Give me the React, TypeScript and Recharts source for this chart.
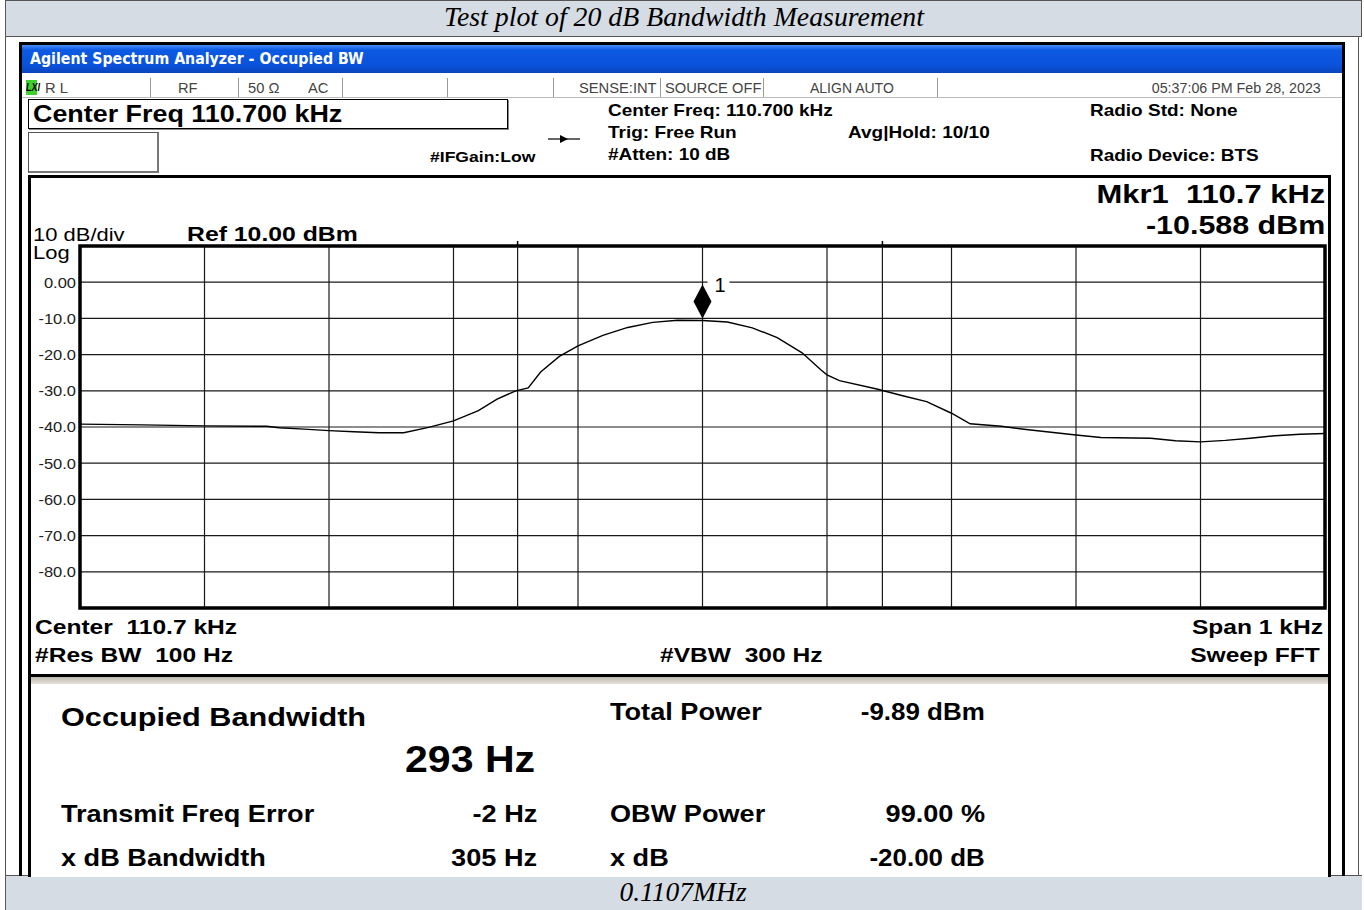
import React from "react";
import {
  CartesianGrid,
  Line,
  LineChart,
  ReferenceArea,
  ReferenceDot,
  ReferenceLine,
  XAxis,
  YAxis,
} from "recharts";

// trace: offset from 110.7 kHz centre (Hz) vs level (dBm)
const FREQ_OFFSET_HZ = [
  -500, -450, -400, -350, -340, -320, -300, -280, -260, -240, -220, -200, -180, -165, -150,
  -140, -130, -115, -100, -80, -60, -40, -20, 0, 20, 40, 60, 80, 95, 100, 110, 140, 160, 180,
  200, 215, 240, 260, 300, 320, 360, 380, 400, 420, 440, 460, 480, 500,
];
const TRACE_DBM = [
  -39.2, -39.4, -39.7, -39.8, -40.2, -40.6, -41.0, -41.3, -41.6, -41.6, -40.1, -38.3, -35.5,
  -32.3, -30.0, -29.2, -24.8, -20.5, -17.6, -14.7, -12.5, -11.1, -10.5, -10.59, -11.0, -12.6,
  -15.3, -19.5, -24.2, -25.6, -27.2, -29.5, -31.3, -33.0, -36.2, -39.1, -39.8, -40.7, -42.2,
  -42.9, -43.1, -43.8, -44.1, -43.7, -43.1, -42.4, -42.0, -41.8,
];
const X_TICKS = [-500, -400, -300, -200, -100, 0, 100, 200, 300, 400, 500];
const Y_TICKS = [-90, -80, -70, -60, -50, -40, -30, -20, -10, 0, 10];
const OBW_EDGES_HZ = [-148.5, 144.5];
const MARKER_HZ = 0;
const MARKER_DBM = -10.588;

const data = FREQ_OFFSET_HZ.map((f, i) => ({ f, dbm: TRACE_DBM[i] }));

const SANS = '"Liberation Sans", Arial, sans-serif';
const SERIF = '"Liberation Serif", "Times New Roman", serif';

type TxtProps = {
  x: number;
  y: number; // baseline
  size: number;
  children: React.ReactNode;
  bold?: boolean;
  align?: "left" | "right" | "center";
  font?: string;
  color?: string;
  italic?: boolean;
  sx?: number;
};

const Txt = ({
  x,
  y,
  size,
  children,
  bold = true,
  align = "left",
  font = SANS,
  color = "#000",
  italic = false,
  sx = 1.15,
}: TxtProps) => {
  const style: React.CSSProperties = {
    position: "absolute",
    top: y - 0.85 * size,
    fontSize: size,
    lineHeight: `${size}px`,
    fontFamily: font,
    fontWeight: bold ? 700 : 400,
    fontStyle: italic ? "italic" : "normal",
    color,
    whiteSpace: "nowrap",
  };
  if (align === "left") {
    style.left = x;
    style.transform = `scaleX(${sx})`;
    style.transformOrigin = "left";
  } else if (align === "right") {
    style.right = 1364 - x;
    style.transform = `scaleX(${sx})`;
    style.transformOrigin = "right";
  } else {
    style.left = x;
    style.transform = `translateX(-50%) scaleX(${sx})`;
    style.transformOrigin = "center";
  }
  return <div style={style}>{children}</div>;
};

const Box = (p: { l: number; t: number; w: number; h: number; style?: React.CSSProperties }) => (
  <div
    style={{
      position: "absolute",
      left: p.l,
      top: p.t,
      width: p.w,
      height: p.h,
      boxSizing: "border-box",
      ...p.style,
    }}
  />
);

const NoTick = () => <g />;

const YTick = (props: any) => {
  const { x, y, payload } = props;
  const v = payload.value as number;
  if (v === 10 || v === -90) return <g />;
  const label = v === 0 ? "0.00" : v.toFixed(1);
  return (
    <g transform={`translate(${x},${y})`}>
      <text
        x={0}
        y={0}
        dy="0.36em"
        textAnchor="end"
        transform="scale(1.1,1)"
        fontFamily={SANS}
        fontSize={15}
        fill="#222"
      >
        {label}
      </text>
    </g>
  );
};

const MarkerShape = (props: any) => {
  const { cx, cy } = props;
  const top = cy - 36;
  const bot = cy - 2;
  const mid = (top + bot) / 2;
  return (
    <g>
      <rect x={cx + 5} y={top - 10} width={22} height={18} fill="#fff" />
      <path d={`M${cx},${top} L${cx + 9},${mid} L${cx},${bot} L${cx - 9},${mid} Z`} fill="#000" />
      <text x={cx + 12} y={top + 7} fontFamily={SANS} fontSize={20} fill="#000">
        1
      </text>
    </g>
  );
};

const EdgeTick = (props: any) => {
  const { viewBox } = props;
  if (!viewBox) return null;
  return (
    <line
      x1={viewBox.x}
      x2={viewBox.x}
      y1={viewBox.y - 5}
      y2={viewBox.y}
      stroke="#000"
      strokeWidth={1.5}
    />
  );
};

const Analyzer = () => (
  <LineChart
    width={1300}
    height={500}
    data={data}
    margin={{ top: 70, right: 5, bottom: 67, left: 0 }}
  >
    <CartesianGrid stroke="#1a1a1a" strokeWidth={1.2} />
    <XAxis
      dataKey="f"
      type="number"
      domain={[-500, 500]}
      ticks={X_TICKS}
      tick={<NoTick />}
      tickLine={false}
      axisLine={false}
      height={1}
    />
    <YAxis
      type="number"
      domain={[-90, 10]}
      ticks={Y_TICKS}
      width={50}
      tickLine={false}
      axisLine={false}
      tickSize={3}
      tickMargin={1}
      tick={<YTick />}
    />
    {OBW_EDGES_HZ.map((f) => (
      <ReferenceLine
        key={f}
        x={f}
        stroke="#1a1a1a"
        strokeWidth={1.2}
        label={<EdgeTick />}
      />
    ))}
    <Line
      dataKey="dbm"
      type="linear"
      stroke="#000"
      strokeWidth={1.4}
      dot={false}
      isAnimationActive={false}
    />
    <ReferenceArea
      x1={-500}
      x2={500}
      y1={-90}
      y2={10}
      fill="none"
      stroke="#000"
      strokeWidth={3.5}
    />
    <ReferenceDot x={MARKER_HZ} y={MARKER_DBM} shape={<MarkerShape />} />
  </LineChart>
);

const statusSeparators = [150, 238, 342, 447, 553, 660, 763, 937];

export default function App() {
  return (
    <div
      style={{
        position: "absolute",
        left: 0,
        top: 0,
        width: 1364,
        height: 910,
        background: "#fff",
        overflow: "hidden",
      }}
    >
      {/* page table frame */}
      <Box l={5} t={0} w={1357} h={37} style={{ background: "#d6dce4", border: "1px solid #555" }} />
      <Box l={5} t={36} w={1354} h={840} style={{ borderLeft: "1px solid #555", borderRight: "1px solid #555" }} />
      <Box l={5} t={875} w={1357} h={35} style={{ background: "#d6dce4", borderTop: "1px solid #555", borderLeft: "1px solid #555" }} />
      <Txt x={684} y={27} size={27} font={SERIF} bold={false} italic align="center" sx={1.03}>
        Test plot of 20 dB Bandwidth Measurement
      </Txt>
      <Txt x={683} y={902} size={27} font={SERIF} bold={false} italic align="center" sx={1.02}>
        0.1107MHz
      </Txt>

      {/* analyzer screenshot */}
      <Box l={19} t={42} w={1326} h={834} style={{ border: "3px solid #000", borderBottom: "none" }} />
      <Box
        l={22}
        t={45}
        w={1320}
        h={28}
        style={{
          background: "linear-gradient(to bottom, #4a8cf7 0%, #0c5ae3 18%, #0a52da 75%, #0a45bb 100%)",
        }}
      />
      <Txt x={30} y={65} size={15} color="#fff" font='"DejaVu Sans Condensed", "DejaVu Sans", sans-serif' sx={1.05}>
        Agilent Spectrum Analyzer - Occupied BW
      </Txt>

      {/* status row */}
      <Box l={22} t={77} w={1320} h={21} style={{ borderBottom: "1px solid #bbb" }} />
      {statusSeparators.map((x) => (
        <Box key={x} l={x} t={78} w={1} h={19} style={{ background: "#999" }} />
      ))}
      <Box l={26} t={80} w={11} h={15} style={{ background: "#3fcf2f" }} />
      <Txt x={26} y={91} size={10} italic color="#000" sx={0.9}>LXI</Txt>
      <Txt x={45} y={93} size={14} bold={false} color="#444" sx={1.05}>R L</Txt>
      <Txt x={178} y={93} size={14} bold={false} color="#444" sx={1.05}>RF</Txt>
      <Txt x={248} y={93} size={14} bold={false} color="#444" sx={1.05}>50 Ω</Txt>
      <Txt x={308} y={93} size={14} bold={false} color="#444" sx={1.05}>AC</Txt>
      <Txt x={579} y={93} size={14} bold={false} color="#444" sx={1.05}>SENSE:INT</Txt>
      <Txt x={665} y={93} size={14} bold={false} color="#444" sx={1.05}>SOURCE OFF</Txt>
      <Txt x={810} y={93} size={14} bold={false} color="#444" sx={1.0}>ALIGN AUTO</Txt>
      <Txt x={1321} y={93} size={14} bold={false} color="#444" align="right" sx={1.02}>
        05:37:06 PM Feb 28, 2023
      </Txt>

      {/* setup area */}
      <Box l={28} t={99} w={480} h={30} style={{ border: "1px solid #000", boxShadow: "1px 1px 0 #888" }} />
      <Txt x={33} y={122} size={24} sx={1.12}>Center Freq 110.700 kHz</Txt>
      <Box l={28} t={132} w={131} h={41} style={{ border: "1px solid #555", borderRight: "2px solid #777", borderBottom: "2px solid #777" }} />
      <Txt x={430} y={162} size={15} sx={1.17}>#IFGain:Low</Txt>
      <svg style={{ position: "absolute", left: 547, top: 133 }} width={34} height={12}>
        <line x1={1} y1={6} x2={33} y2={6} stroke="#000" strokeWidth={1.2} />
        <path d="M13,2 L21,6 L13,10 Z" fill="#000" />
      </svg>
      <Txt x={608} y={116} size={16.5}>Center Freq: 110.700 kHz</Txt>
      <Txt x={608} y={138} size={16.5}>Trig: Free Run</Txt>
      <Txt x={608} y={160} size={16.5}>#Atten: 10 dB</Txt>
      <Txt x={848} y={138} size={16.5}>Avg|Hold: 10/10</Txt>
      <Txt x={1090} y={116} size={16.5}>Radio Std: None</Txt>
      <Txt x={1090} y={161} size={16.5}>Radio Device: BTS</Txt>

      {/* graph frame */}
      <Box l={28} t={175} w={1303} h={502} style={{ border: "3px solid #000" }} />
      <Txt x={1325} y={203} size={26} align="right" sx={1.19}>Mkr1&nbsp;&nbsp;110.7 kHz</Txt>
      <Txt x={1325} y={234} size={26} align="right" sx={1.17}>-10.588 dBm</Txt>
      <Txt x={33} y={241} size={18} bold={false} sx={1.22}>10 dB/div</Txt>
      <Txt x={187} y={241} size={21} sx={1.18}>Ref 10.00 dBm</Txt>
      <Txt x={33} y={259} size={18} bold={false} sx={1.22}>Log</Txt>
      <div style={{ position: "absolute", left: 30, top: 176 }}>
        <Analyzer />
      </div>
      <Txt x={35} y={634} size={21} sx={1.17}>Center&nbsp;&nbsp;110.7 kHz</Txt>
      <Txt x={35} y={662} size={21} sx={1.17}>#Res BW&nbsp;&nbsp;100 Hz</Txt>
      <Txt x={660} y={662} size={21} sx={1.17}>#VBW&nbsp;&nbsp;300 Hz</Txt>
      <Txt x={1323} y={634} size={21} align="right" sx={1.17}>Span 1 kHz</Txt>
      <Txt x={1320} y={662} size={21} align="right" sx={1.17}>Sweep FFT</Txt>

      {/* results panel */}
      <Box l={28} t={677} w={1303} h={200} style={{ borderLeft: "3px solid #000", borderRight: "3px solid #000", background: "#fff" }} />
      <Box l={31} t={677} w={1297} h={7} style={{ background: "linear-gradient(to bottom, #bdb8ae, #e6e3dc)" }} />
      <Txt x={61} y={726} size={26} sx={1.18}>Occupied Bandwidth</Txt>
      <Txt x={405} y={773} size={36} sx={1.14}>293 Hz</Txt>
      <Txt x={610} y={720} size={24} sx={1.13}>Total Power</Txt>
      <Txt x={985} y={720} size={24} align="right" sx={1.08}>-9.89 dBm</Txt>
      <Txt x={61} y={822} size={24} sx={1.13}>Transmit Freq Error</Txt>
      <Txt x={537} y={822} size={24} align="right" sx={1.13}>-2 Hz</Txt>
      <Txt x={610} y={822} size={24} sx={1.13}>OBW Power</Txt>
      <Txt x={985} y={822} size={24} align="right" sx={1.13}>99.00 %</Txt>
      <Txt x={61} y={866} size={24} sx={1.13}>x dB Bandwidth</Txt>
      <Txt x={537} y={866} size={24} align="right" sx={1.13}>305 Hz</Txt>
      <Txt x={610} y={866} size={24} sx={1.13}>x dB</Txt>
      <Txt x={985} y={866} size={24} align="right" sx={1.08}>-20.00 dB</Txt>
    </div>
  );
}
